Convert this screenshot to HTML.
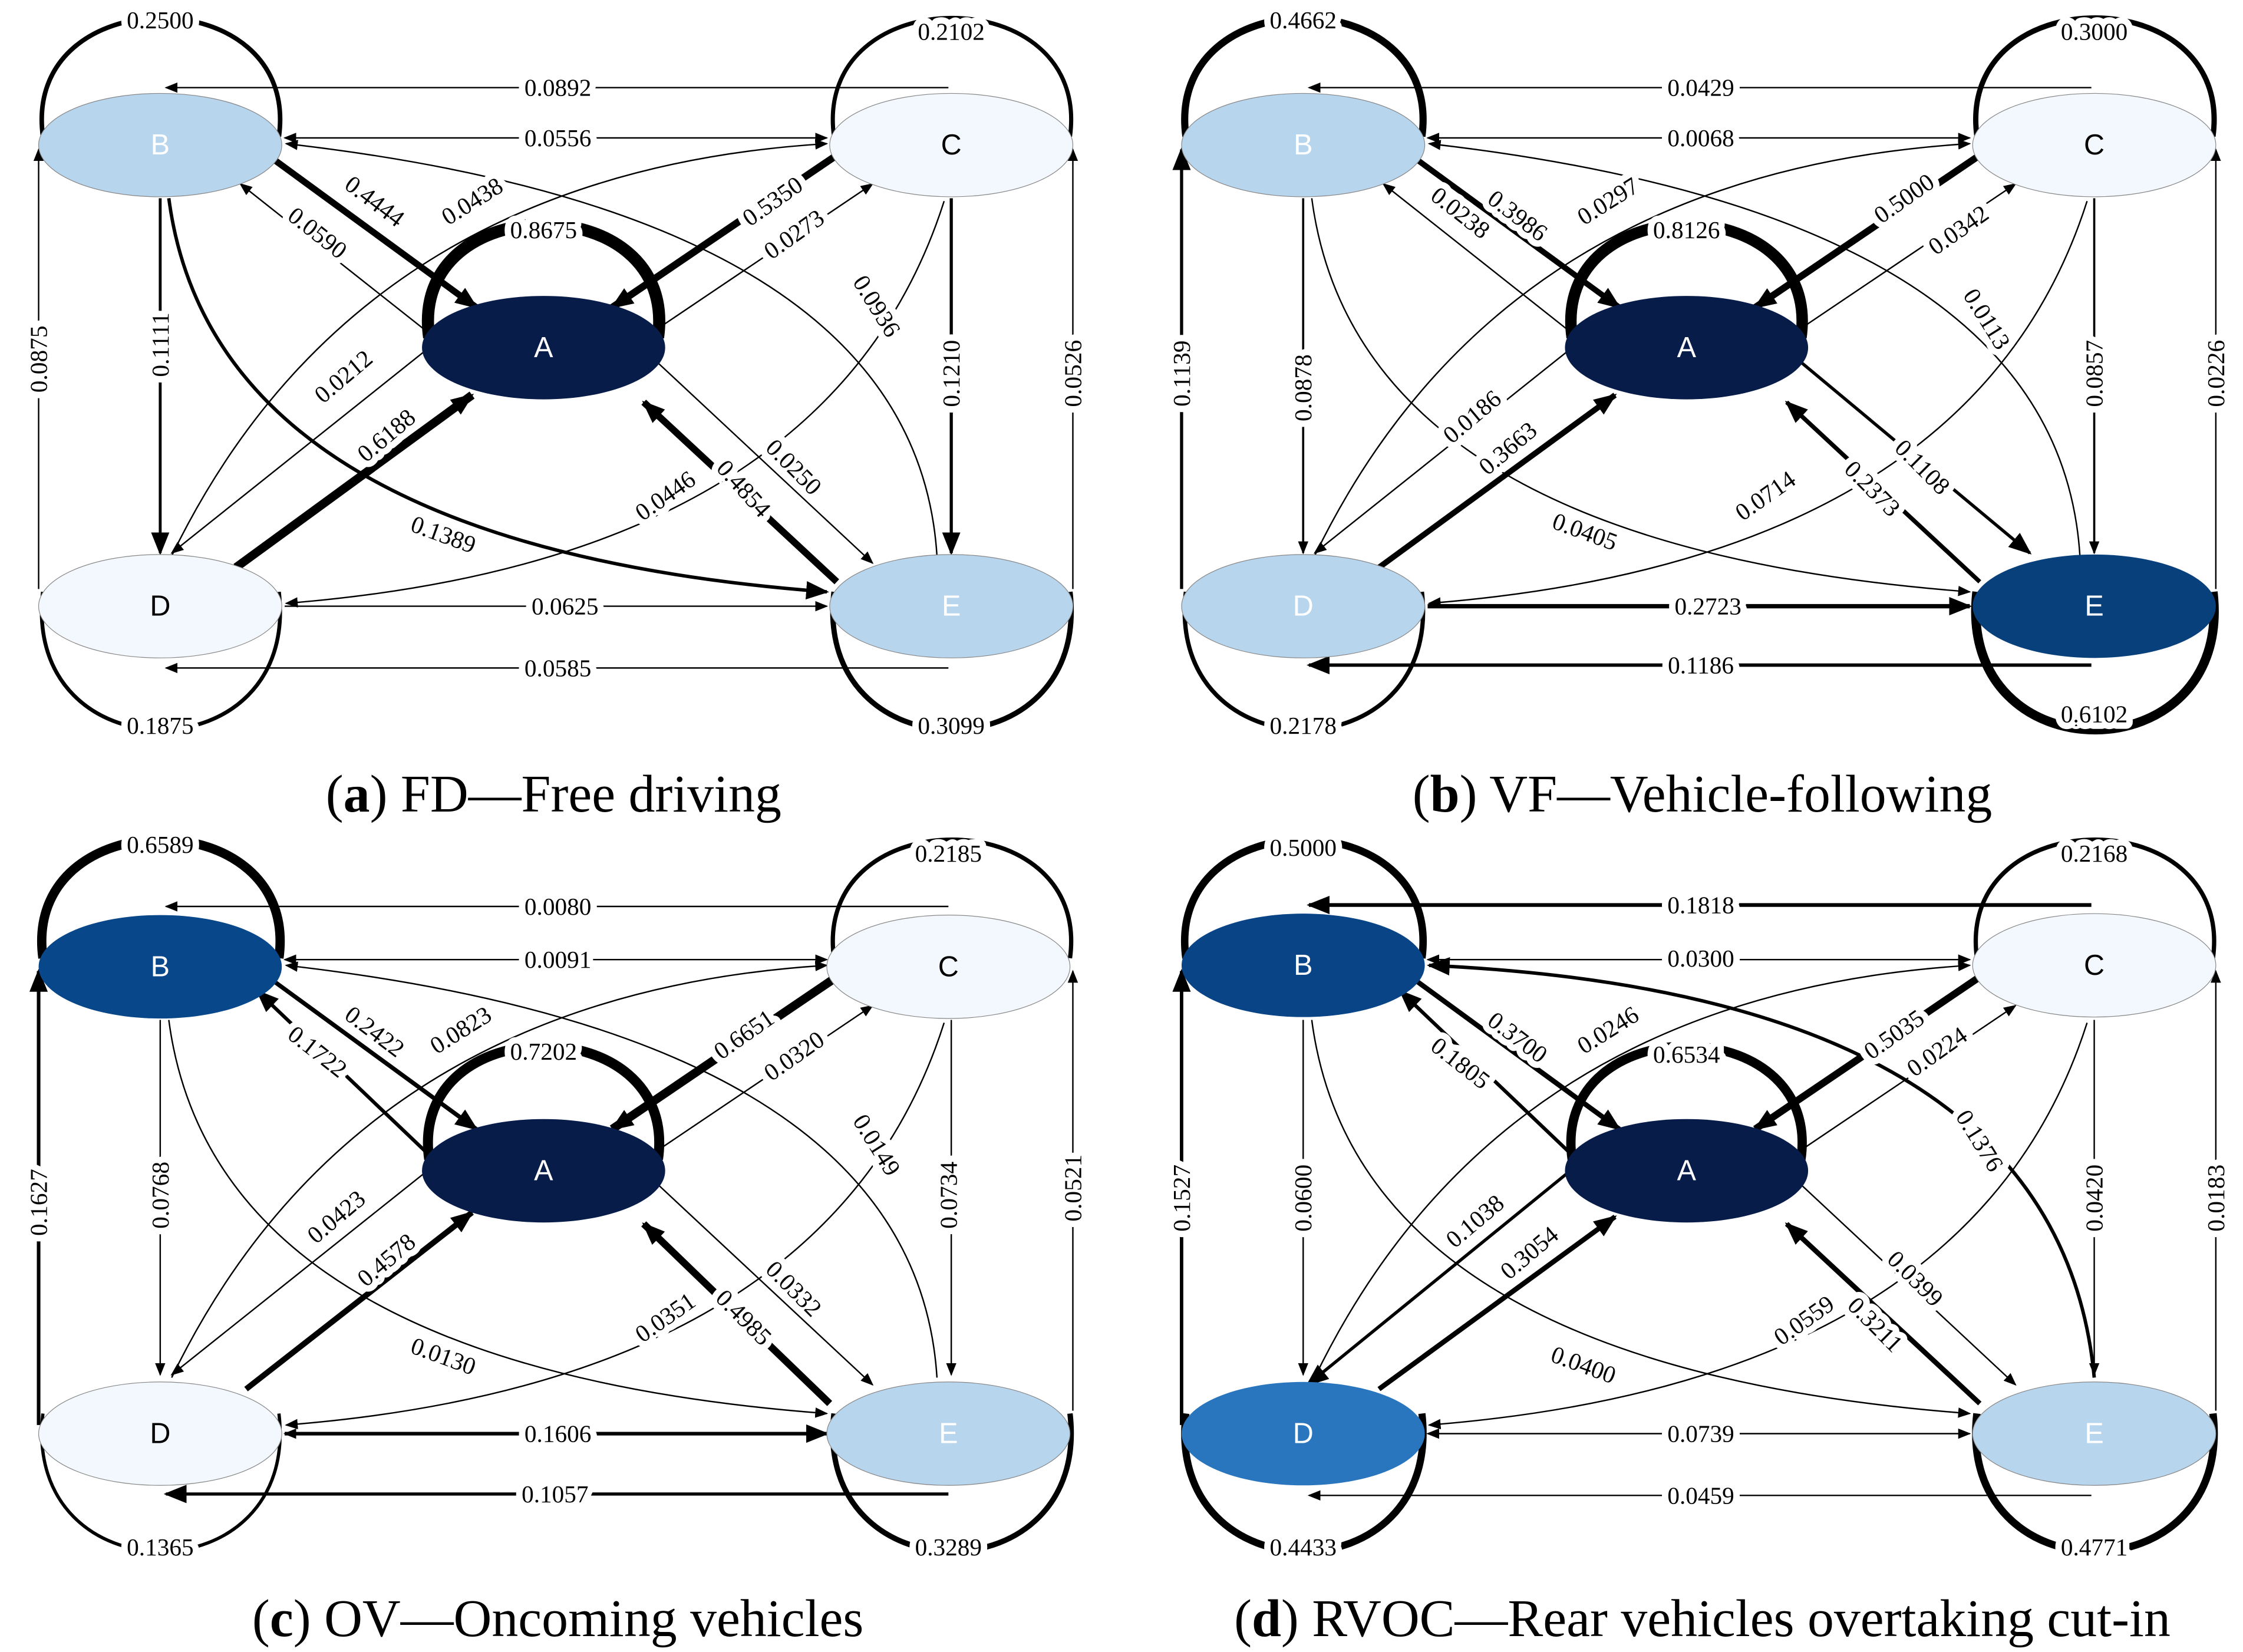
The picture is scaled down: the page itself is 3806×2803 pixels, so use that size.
<!DOCTYPE html>
<html><head><meta charset="utf-8"><style>
html,body{margin:0;padding:0;background:#fff}
svg{display:block}
.l{font-family:"Liberation Serif",serif;font-size:17px;text-anchor:middle;dominant-baseline:central;paint-order:stroke;stroke:#fff;stroke-width:9px;stroke-linejoin:round;fill:#000}
.n{font-family:"Liberation Sans",sans-serif;font-size:20px;text-anchor:middle;dominant-baseline:central}
.cap{font-family:"Liberation Serif",serif;font-size:37px;text-anchor:middle}
path,line{fill:none;stroke:#000}
</style></head><body>
<svg width="3806" height="2803" viewBox="0 0 1568 1150" preserveAspectRatio="none" xmlns="http://www.w3.org/2000/svg">
<defs>
<marker id="m" viewBox="0 0 10 10" refX="9" refY="5" markerWidth="9" markerHeight="9" markerUnits="userSpaceOnUse" orient="auto-start-reverse"><path d="M0,1L10,5L0,9z" style="fill:#000;stroke:none"/></marker>
<marker id="M" viewBox="0 0 10 10" refX="9" refY="5" markerWidth="16" markerHeight="16" markerUnits="userSpaceOnUse" orient="auto-start-reverse"><path d="M0,1L10,5L0,9z" style="fill:#000;stroke:none"/></marker>
</defs>

<!-- Panel A -->
<g>
<path d="M30,95 C15,-15 210,-15 195,95" stroke-width="3.2"/>
<path d="M583,95 C568,-15 763,-15 748,95" stroke-width="2.9"/>
<path d="M30,412 C15,540 210,540 195,412" stroke-width="2.7"/>
<path d="M583,412 C568,540 763,540 748,412" stroke-width="3.7"/>
<path d="M300,235 C285,130 475,130 460,235" stroke-width="8.5"/>
<line x1="663" y1="61" x2="116" y2="61" stroke-width="1" marker-end="url(#m)"/>
<line x1="199" y1="96" x2="578" y2="96" stroke-width="1" marker-start="url(#m)" marker-end="url(#m)"/>
<line x1="190" y1="110" x2="333" y2="214" stroke-width="4.5" marker-end="url(#M)"/>
<line x1="585" y1="108" x2="428" y2="214" stroke-width="5" marker-end="url(#M)"/>
<line x1="300" y1="232" x2="168" y2="128" stroke-width="1" marker-end="url(#m)"/>
<path d="M120,387 Q250,120 578,100" stroke-width="1" marker-end="url(#m)"/>
<line x1="455" y1="232" x2="610" y2="128" stroke-width="1" marker-end="url(#m)"/>
<path d="M655,387 Q640,150 200,100" stroke-width="1" marker-end="url(#m)"/>
<line x1="112" y1="138" x2="112" y2="385" stroke-width="2" marker-end="url(#M)"/>
<line x1="665" y1="138" x2="665" y2="385" stroke-width="2.2" marker-end="url(#M)"/>
<line x1="165" y1="395" x2="330" y2="275" stroke-width="6" marker-end="url(#M)"/>
<line x1="300" y1="242" x2="120" y2="385" stroke-width="1" marker-end="url(#m)"/>
<path d="M118,138 Q150,380 578,412" stroke-width="2.4" marker-end="url(#M)"/>
<line x1="585" y1="405" x2="450" y2="280" stroke-width="4.8" marker-end="url(#M)"/>
<line x1="455" y1="248" x2="610" y2="392" stroke-width="1" marker-end="url(#m)"/>
<path d="M660,140 Q580,390 200,420" stroke-width="1" marker-end="url(#m)"/>
<line x1="199" y1="422" x2="578" y2="422" stroke-width="1" marker-end="url(#m)"/>
<line x1="663" y1="465" x2="116" y2="465" stroke-width="1" marker-end="url(#m)"/>
<line x1="27" y1="410" x2="27" y2="104" stroke-width="1" marker-end="url(#m)"/>
<line x1="750" y1="410" x2="750" y2="104" stroke-width="1" marker-end="url(#m)"/>
<ellipse cx="112" cy="101" rx="85" ry="36" fill="#b8d5ee" stroke="#888" stroke-width=".5"/>
<ellipse cx="665" cy="101" rx="85" ry="36" fill="#f2f8fd" stroke="#888" stroke-width=".5"/>
<ellipse cx="380" cy="242" rx="85" ry="36" fill="#081c4a"/>
<ellipse cx="112" cy="422" rx="85" ry="36" fill="#f2f8fd" stroke="#888" stroke-width=".5"/>
<ellipse cx="665" cy="422" rx="85" ry="36" fill="#b8d5ee" stroke="#888" stroke-width=".5"/>
<text class="n" x="112" y="101" fill="#fff">B</text><text class="n" x="665" y="101">C</text><text class="n" x="380" y="242" fill="#fff">A</text><text class="n" x="112" y="422">D</text><text class="n" x="665" y="422" fill="#fff">E</text>
<text class="l" x="112" y="14">0.2500</text><text class="l" x="665" y="22">0.2102</text><text class="l" x="112" y="505">0.1875</text><text class="l" x="665" y="505">0.3099</text><text class="l" x="380" y="160">0.8675</text>
<text class="l" x="390" y="61">0.0892</text><text class="l" x="390" y="96">0.0556</text>
<text class="l" transform="translate(262,140) rotate(37)">0.4444</text>
<text class="l" transform="translate(540,140) rotate(-35)">0.5350</text>
<text class="l" transform="translate(222,162) rotate(38)">0.0590</text>
<text class="l" transform="translate(330,140) rotate(-32)">0.0438</text>
<text class="l" transform="translate(555,163) rotate(-35)">0.0273</text>
<text class="l" transform="translate(613,213) rotate(58)">0.0936</text>
<text class="l" transform="translate(112,240) rotate(-90)">0.1111</text>
<text class="l" transform="translate(665,260) rotate(-90)">0.1210</text>
<text class="l" transform="translate(270,303) rotate(-40)">0.6188</text>
<text class="l" transform="translate(240,262) rotate(-40)">0.0212</text>
<text class="l" transform="translate(310,372) rotate(20)">0.1389</text>
<text class="l" transform="translate(520,340) rotate(48)">0.4854</text>
<text class="l" transform="translate(555,325) rotate(45)">0.0250</text>
<text class="l" transform="translate(465,345) rotate(-35)">0.0446</text>
<text class="l" x="395" y="422">0.0625</text><text class="l" x="390" y="465">0.0585</text>
<text class="l" transform="translate(27,250) rotate(-90)">0.0875</text>
<text class="l" transform="translate(750,260) rotate(-90)">0.0526</text>
</g>
<text class="cap" x="387" y="565">(<tspan font-weight="bold">a</tspan>) FD—Free driving</text>

<!-- Panel B -->
<g transform="translate(799,0)">
<path d="M30,95 C15,-15 210,-15 195,95" stroke-width="5"/>
<path d="M583,95 C568,-15 763,-15 748,95" stroke-width="3.7"/>
<path d="M30,412 C15,540 210,540 195,412" stroke-width="3"/>
<path d="M583,412 C568,540 763,540 748,412" stroke-width="6.5"/>
<path d="M300,235 C285,130 475,130 460,235" stroke-width="8"/>
<line x1="663" y1="61" x2="116" y2="61" stroke-width="1" marker-end="url(#m)"/>
<line x1="199" y1="96" x2="578" y2="96" stroke-width="1" marker-start="url(#m)" marker-end="url(#m)"/>
<line x1="190" y1="110" x2="333" y2="214" stroke-width="4" marker-end="url(#M)"/>
<line x1="585" y1="108" x2="428" y2="214" stroke-width="4.8" marker-end="url(#M)"/>
<line x1="300" y1="232" x2="168" y2="128" stroke-width="1" marker-end="url(#m)"/>
<path d="M120,387 Q250,120 578,100" stroke-width="1" marker-end="url(#m)"/>
<line x1="455" y1="232" x2="610" y2="128" stroke-width="1" marker-end="url(#m)"/>
<path d="M655,387 Q640,150 200,100" stroke-width="1" marker-end="url(#m)"/>
<line x1="112" y1="138" x2="112" y2="385" stroke-width="1.5" marker-end="url(#m)"/>
<line x1="665" y1="138" x2="665" y2="385" stroke-width="1.5" marker-end="url(#m)"/>
<line x1="165" y1="395" x2="330" y2="275" stroke-width="4" marker-end="url(#M)"/>
<line x1="300" y1="242" x2="120" y2="385" stroke-width="1" marker-end="url(#m)"/>
<path d="M118,138 Q150,380 578,412" stroke-width="1" marker-end="url(#m)"/>
<line x1="585" y1="405" x2="450" y2="280" stroke-width="3" marker-end="url(#M)"/>
<line x1="455" y1="248" x2="620" y2="385" stroke-width="2.2" marker-end="url(#M)"/>
<path d="M660,140 Q580,390 200,420" stroke-width="1" marker-end="url(#m)"/>
<line x1="199" y1="422" x2="578" y2="422" stroke-width="3" marker-end="url(#M)"/>
<line x1="663" y1="463" x2="116" y2="463" stroke-width="2.4" marker-end="url(#M)"/>
<line x1="27" y1="410" x2="27" y2="104" stroke-width="2.2" marker-end="url(#M)"/>
<line x1="750" y1="410" x2="750" y2="104" stroke-width="1" marker-end="url(#m)"/>
<ellipse cx="112" cy="101" rx="85" ry="36" fill="#b8d5ee" stroke="#888" stroke-width=".5"/>
<ellipse cx="665" cy="101" rx="85" ry="36" fill="#f2f8fd" stroke="#888" stroke-width=".5"/>
<ellipse cx="380" cy="242" rx="85" ry="36" fill="#081c4a"/>
<ellipse cx="112" cy="422" rx="85" ry="36" fill="#b8d5ee" stroke="#888" stroke-width=".5"/>
<ellipse cx="665" cy="422" rx="85" ry="36" fill="#08407c"/>
<text class="n" x="112" y="101" fill="#fff">B</text><text class="n" x="665" y="101">C</text><text class="n" x="380" y="242" fill="#fff">A</text><text class="n" x="112" y="422" fill="#fff">D</text><text class="n" x="665" y="422" fill="#fff">E</text>
<text class="l" x="112" y="14">0.4662</text><text class="l" x="665" y="22">0.3000</text><text class="l" x="112" y="505">0.2178</text><text class="l" x="665" y="497">0.6102</text><text class="l" x="380" y="160">0.8126</text>
<text class="l" x="390" y="61">0.0429</text><text class="l" x="390" y="96">0.0068</text>
<text class="l" transform="translate(262,150) rotate(37)">0.3986</text>
<text class="l" transform="translate(532,138) rotate(-35)">0.5000</text>
<text class="l" transform="translate(222,148) rotate(38)">0.0238</text>
<text class="l" transform="translate(325,140) rotate(-32)">0.0297</text>
<text class="l" transform="translate(570,160) rotate(-35)">0.0342</text>
<text class="l" transform="translate(590,222) rotate(58)">0.0113</text>
<text class="l" transform="translate(112,270) rotate(-90)">0.0878</text>
<text class="l" transform="translate(665,260) rotate(-90)">0.0857</text>
<text class="l" transform="translate(255,312) rotate(-40)">0.3663</text>
<text class="l" transform="translate(230,290) rotate(-40)">0.0186</text>
<text class="l" transform="translate(309,370) rotate(20)">0.0405</text>
<text class="l" transform="translate(510,340) rotate(45)">0.2373</text>
<text class="l" transform="translate(545,325) rotate(45)">0.1108</text>
<text class="l" transform="translate(435,345) rotate(-35)">0.0714</text>
<text class="l" x="395" y="422">0.2723</text><text class="l" x="390" y="463">0.1186</text>
<text class="l" transform="translate(27,260) rotate(-90)">0.1139</text>
<text class="l" transform="translate(750,260) rotate(-90)">0.0226</text>
</g>
<text class="cap" x="1190" y="565">(<tspan font-weight="bold">b</tspan>) VF—Vehicle-following</text>

<!-- Panel C -->
<g transform="translate(0,572)">
<path d="M30,95 C15,-15 210,-15 195,95" stroke-width="6.5"/>
<path d="M583,95 C568,-15 763,-15 748,95" stroke-width="3"/>
<path d="M30,412 C15,540 210,540 195,412" stroke-width="2.3"/>
<path d="M583,412 C568,540 763,540 748,412" stroke-width="3.8"/>
<path d="M300,235 C285,130 475,130 460,235" stroke-width="7"/>
<line x1="663" y1="59" x2="116" y2="59" stroke-width="1" marker-end="url(#m)"/>
<line x1="199" y1="96" x2="578" y2="96" stroke-width="1" marker-start="url(#m)" marker-end="url(#m)"/>
<line x1="190" y1="110" x2="333" y2="214" stroke-width="3" marker-end="url(#M)"/>
<line x1="585" y1="108" x2="428" y2="214" stroke-width="6" marker-end="url(#M)"/>
<line x1="300" y1="232" x2="180" y2="118" stroke-width="2.5" marker-end="url(#M)"/>
<path d="M120,387 Q250,120 578,100" stroke-width="1" marker-end="url(#m)"/>
<line x1="455" y1="232" x2="610" y2="128" stroke-width="1" marker-end="url(#m)"/>
<path d="M655,387 Q640,150 200,100" stroke-width="1" marker-end="url(#m)"/>
<line x1="112" y1="138" x2="112" y2="385" stroke-width="1" marker-end="url(#m)"/>
<line x1="665" y1="138" x2="665" y2="385" stroke-width="1" marker-end="url(#m)"/>
<line x1="172" y1="395" x2="330" y2="272" stroke-width="4" marker-end="url(#M)"/>
<line x1="300" y1="242" x2="120" y2="385" stroke-width="1" marker-end="url(#m)"/>
<path d="M118,138 Q150,380 578,412" stroke-width="1" marker-end="url(#m)"/>
<line x1="580" y1="405" x2="450" y2="280" stroke-width="5" marker-end="url(#M)"/>
<line x1="455" y1="248" x2="610" y2="392" stroke-width="1" marker-end="url(#m)"/>
<path d="M660,140 Q580,390 200,420" stroke-width="1" marker-end="url(#m)"/>
<line x1="199" y1="426" x2="578" y2="426" stroke-width="2.5" marker-start="url(#m)" marker-end="url(#M)"/>
<line x1="663" y1="468" x2="116" y2="468" stroke-width="2.2" marker-end="url(#M)"/>
<line x1="27" y1="420" x2="27" y2="104" stroke-width="2.5" marker-end="url(#M)"/>
<line x1="750" y1="410" x2="750" y2="104" stroke-width="1" marker-end="url(#m)"/>
<ellipse cx="112" cy="101" rx="85" ry="36" fill="#08478a"/>
<ellipse cx="663" cy="101" rx="85" ry="36" fill="#f2f8fd" stroke="#888" stroke-width=".5"/>
<ellipse cx="380" cy="243" rx="85" ry="36" fill="#081c4a"/>
<ellipse cx="112" cy="426" rx="85" ry="36" fill="#f2f8fd" stroke="#888" stroke-width=".5"/>
<ellipse cx="663" cy="426" rx="85" ry="36" fill="#b8d5ee" stroke="#888" stroke-width=".5"/>
<text class="n" x="112" y="101" fill="#fff">B</text><text class="n" x="663" y="101">C</text><text class="n" x="380" y="243" fill="#fff">A</text><text class="n" x="112" y="426">D</text><text class="n" x="663" y="426" fill="#fff">E</text>
<text class="l" x="112" y="16">0.6589</text><text class="l" x="663" y="22">0.2185</text><text class="l" x="112" y="505">0.1365</text><text class="l" x="663" y="505">0.3289</text><text class="l" x="380" y="160">0.7202</text>
<text class="l" x="390" y="59">0.0080</text><text class="l" x="390" y="96">0.0091</text>
<text class="l" transform="translate(262,146) rotate(37)">0.2422</text>
<text class="l" transform="translate(520,148) rotate(-35)">0.6651</text>
<text class="l" transform="translate(222,160) rotate(38)">0.1722</text>
<text class="l" transform="translate(322,145) rotate(-32)">0.0823</text>
<text class="l" transform="translate(555,163) rotate(-35)">0.0320</text>
<text class="l" transform="translate(613,225) rotate(58)">0.0149</text>
<text class="l" transform="translate(112,260) rotate(-90)">0.0768</text>
<text class="l" transform="translate(663,260) rotate(-90)">0.0734</text>
<text class="l" transform="translate(270,305) rotate(-40)">0.4578</text>
<text class="l" transform="translate(235,275) rotate(-40)">0.0423</text>
<text class="l" transform="translate(310,372) rotate(20)">0.0130</text>
<text class="l" transform="translate(520,345) rotate(45)">0.4985</text>
<text class="l" transform="translate(555,325) rotate(45)">0.0332</text>
<text class="l" transform="translate(465,345) rotate(-35)">0.0351</text>
<text class="l" x="390" y="426">0.1606</text><text class="l" x="388" y="468">0.1057</text>
<text class="l" transform="translate(27,265) rotate(-90)">0.1627</text>
<text class="l" transform="translate(750,255) rotate(-90)">0.0521</text>
</g>
<text class="cap" x="390" y="1139">(<tspan font-weight="bold">c</tspan>) OV—Oncoming vehicles</text>

<!-- Panel D -->
<g transform="translate(799,572)">
<path d="M30,95 C15,-15 210,-15 195,95" stroke-width="5.2"/>
<path d="M583,95 C568,-15 763,-15 748,95" stroke-width="3"/>
<path d="M30,412 C15,540 210,540 195,412" stroke-width="5"/>
<path d="M583,412 C568,540 763,540 748,412" stroke-width="5.2"/>
<path d="M300,235 C285,130 475,130 460,235" stroke-width="6.5"/>
<line x1="663" y1="58" x2="116" y2="58" stroke-width="2.6" marker-end="url(#M)"/>
<line x1="199" y1="96" x2="578" y2="96" stroke-width="1" marker-start="url(#m)" marker-end="url(#m)"/>
<line x1="190" y1="110" x2="333" y2="214" stroke-width="3.5" marker-end="url(#M)"/>
<line x1="585" y1="108" x2="428" y2="214" stroke-width="5" marker-end="url(#M)"/>
<line x1="300" y1="232" x2="180" y2="118" stroke-width="2.5" marker-end="url(#M)"/>
<path d="M120,387 Q250,120 578,100" stroke-width="1" marker-end="url(#m)"/>
<line x1="455" y1="232" x2="610" y2="128" stroke-width="1" marker-end="url(#m)"/>
<path d="M665,387 Q640,120 200,100" stroke-width="2.4" marker-end="url(#M)"/>
<line x1="112" y1="138" x2="112" y2="385" stroke-width="1" marker-end="url(#m)"/>
<line x1="665" y1="138" x2="665" y2="385" stroke-width="1" marker-end="url(#m)"/>
<line x1="165" y1="395" x2="330" y2="275" stroke-width="3.5" marker-end="url(#M)"/>
<line x1="300" y1="242" x2="115" y2="392" stroke-width="2.2" marker-end="url(#M)"/>
<path d="M118,138 Q150,380 578,412" stroke-width="1" marker-end="url(#m)"/>
<line x1="585" y1="405" x2="450" y2="280" stroke-width="3.5" marker-end="url(#M)"/>
<line x1="455" y1="248" x2="610" y2="392" stroke-width="1" marker-end="url(#m)"/>
<path d="M660,140 Q580,390 200,420" stroke-width="1" marker-end="url(#m)"/>
<line x1="199" y1="426" x2="578" y2="426" stroke-width="1" marker-start="url(#m)" marker-end="url(#m)"/>
<line x1="663" y1="469" x2="116" y2="469" stroke-width="1" marker-end="url(#m)"/>
<line x1="27" y1="420" x2="27" y2="104" stroke-width="2.4" marker-end="url(#M)"/>
<line x1="750" y1="410" x2="750" y2="104" stroke-width="1" marker-end="url(#m)"/>
<ellipse cx="112" cy="100" rx="85" ry="36" fill="#084486"/>
<ellipse cx="665" cy="100" rx="85" ry="36" fill="#f2f8fd" stroke="#888" stroke-width=".5"/>
<ellipse cx="380" cy="243" rx="85" ry="36" fill="#081c4a"/>
<ellipse cx="112" cy="426" rx="85" ry="36" fill="#2a76be"/>
<ellipse cx="665" cy="426" rx="85" ry="36" fill="#b8d5ee" stroke="#888" stroke-width=".5"/>
<text class="n" x="112" y="100" fill="#fff">B</text><text class="n" x="665" y="100">C</text><text class="n" x="380" y="243" fill="#fff">A</text><text class="n" x="112" y="426" fill="#fff">D</text><text class="n" x="665" y="426" fill="#fff">E</text>
<text class="l" x="112" y="18">0.5000</text><text class="l" x="665" y="22">0.2168</text><text class="l" x="112" y="505">0.4433</text><text class="l" x="665" y="505">0.4771</text><text class="l" x="380" y="162">0.6534</text>
<text class="l" x="390" y="58">0.1818</text><text class="l" x="390" y="95">0.0300</text>
<text class="l" transform="translate(262,150) rotate(37)">0.3700</text>
<text class="l" transform="translate(525,148) rotate(-35)">0.5035</text>
<text class="l" transform="translate(222,168) rotate(38)">0.1805</text>
<text class="l" transform="translate(325,145) rotate(-32)">0.0246</text>
<text class="l" transform="translate(555,160) rotate(-35)">0.0224</text>
<text class="l" transform="translate(585,222) rotate(58)">0.1376</text>
<text class="l" transform="translate(112,262) rotate(-90)">0.0600</text>
<text class="l" transform="translate(665,262) rotate(-90)">0.0420</text>
<text class="l" transform="translate(270,300) rotate(-40)">0.3054</text>
<text class="l" transform="translate(232,278) rotate(-40)">0.1038</text>
<text class="l" transform="translate(308,378) rotate(20)">0.0400</text>
<text class="l" transform="translate(512,350) rotate(45)">0.3211</text>
<text class="l" transform="translate(540,318) rotate(45)">0.0399</text>
<text class="l" transform="translate(462,347) rotate(-35)">0.0559</text>
<text class="l" x="390" y="426">0.0739</text><text class="l" x="390" y="469">0.0459</text>
<text class="l" transform="translate(27,262) rotate(-90)">0.1527</text>
<text class="l" transform="translate(750,262) rotate(-90)">0.0183</text>
</g>
<text class="cap" x="1190" y="1139">(<tspan font-weight="bold">d</tspan>) RVOC—Rear vehicles overtaking cut-in</text>
</svg>
</body></html>
